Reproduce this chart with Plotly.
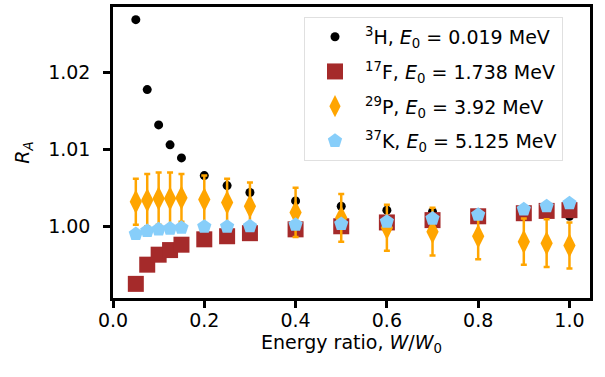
import plotly.graph_objects as go

# ---------------- data ----------------
w_ratio = [0.05, 0.075, 0.1, 0.125, 0.15, 0.2, 0.25, 0.3, 0.4, 0.5, 0.6, 0.7, 0.8, 0.9, 0.95, 1.0]

h3_vals = [1.0269, 1.0178, 1.0132, 1.0106, 1.0089, 1.0066, 1.0053, 1.0044, 1.0033, 1.0026,
           1.0021, 1.0019, 1.0017, 1.0016, 1.0015, 1.0013]
h3_err = [0.0001] * 16

f17_vals = [0.9925, 0.9950, 0.9963, 0.9969, 0.9976, 0.9983, 0.9987, 0.9991, 0.9996, 1.0000,
            1.0005, 1.0008, 1.0013, 1.0017, 1.0020, 1.0021]
f17_err = [0.0001] * 16

p29_vals = [1.0032, 1.0034, 1.0036, 1.0036, 1.0037, 1.0035, 1.0031, 1.0026, 1.0018, 1.0011,
            0.9998, 0.9993, 0.9987, 0.9980, 0.9978, 0.9975]
p29_err = [0.0030, 0.0034, 0.0034, 0.0034, 0.0031, 0.0031, 0.0031, 0.0031, 0.0032, 0.0031,
           0.0030, 0.0031, 0.0030, 0.0030, 0.0031, 0.0030]

k37_vals = [0.9990, 0.9994, 0.9996, 0.9997, 0.9998, 0.99995, 0.99995, 1.0000, 1.0002, 1.0003,
            1.0006, 1.0010, 1.0015, 1.0022, 1.0026, 1.0030]
k37_err = [0.0001] * 16

labels = [
    "<sup>3</sup>H, <i>E</i><sub>0</sub> = 0.019 MeV",
    "<sup>17</sup>F, <i>E</i><sub>0</sub> = 1.738 MeV",
    "<sup>29</sup>P, <i>E</i><sub>0</sub> = 3.92 MeV",
    "<sup>37</sup>K, <i>E</i><sub>0</sub> = 5.125 MeV",
]

x_ticks = [0.0, 0.2, 0.4, 0.6, 0.8, 1.0]
x_ticklabels = ["0.0", "0.2", "0.4", "0.6", "0.8", "1.0"]
y_ticks = [1.00, 1.01, 1.02]
y_ticklabels = ["1.00", "1.01", "1.02"]

# ---------------- figure ----------------
FONT = "DejaVu Sans"
fig = go.Figure()

series = [
    (h3_vals, h3_err, labels[0], "black", "circle", 9),
    (f17_vals, f17_err, labels[1], "#a52a2a", "square", 16),
    (p29_vals, p29_err, labels[2], "#ffa500", "diamond-tall", 17.5),
    (k37_vals, k37_err, labels[3], "#87cefa", "pentagon", 15),
]

for i, (vals, err, name, col, sym, size) in enumerate(series):
    fig.add_trace(go.Scatter(
        x=w_ratio, y=vals, mode="markers", name=name,
        legendgroup=f"g{i}",
        marker=dict(color=col, symbol=sym, size=size, line=dict(width=0)),
        error_y=dict(type="data", array=err, visible=True, color=col,
                     thickness=2.5, width=3),
    ))

fig.update_layout(
    width=605, height=377,
    margin=dict(l=113, r=15, t=4, b=79),
    paper_bgcolor="white", plot_bgcolor="white",
    font=dict(family=FONT, size=19, color="black"),
    showlegend=True,
    legend=dict(
        x=0.4004, y=0.9660, xanchor="left", yanchor="top",
        bgcolor="rgba(255,255,255,0.8)", bordercolor="rgba(204,204,204,0.6)", borderwidth=1,
        font=dict(family=FONT, size=19, color="black"),
        traceorder="grouped", tracegroupgap=7, itemwidth=50,
    ),
    xaxis=dict(
        range=[0, 1.045], tickvals=x_ticks, ticktext=x_ticklabels,
        showgrid=False, zeroline=False,
        showline=True, linecolor="black", linewidth=2.5, mirror=True,
        ticks="outside", ticklen=7, tickwidth=2.5, tickcolor="black",
        ticklabelstandoff=-4,
        title=dict(text="Energy ratio, <i>W</i>/<i>W</i><sub>0</sub>", standoff=0,
                   font=dict(family=FONT, size=19)),
    ),
    yaxis=dict(
        range=[0.99066, 1.02855], tickvals=y_ticks, ticktext=y_ticklabels,
        showgrid=False, zeroline=False,
        showline=True, linecolor="black", linewidth=2.5, mirror=True,
        ticks="outside", ticklen=7, tickwidth=2.5, tickcolor="black",
        ticklabelstandoff=9,
        title=dict(text="<i>R</i><sub><i>A</i></sub>", standoff=14,
                   font=dict(family=FONT, size=19)),
    ),
)

fig.write_html("out.html")
